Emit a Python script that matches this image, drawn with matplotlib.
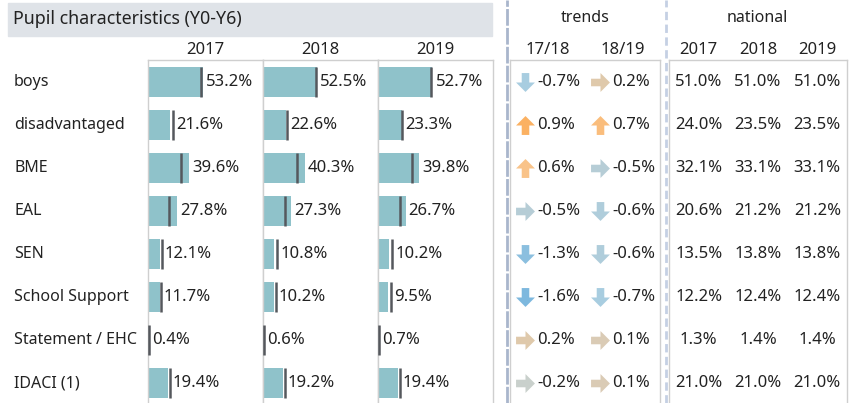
import numpy as np
import matplotlib.pyplot as plt
from matplotlib.patches import Rectangle
from matplotlib.lines import Line2D
from matplotlib.path import Path
from matplotlib.colors import LinearSegmentedColormap

# data
categories = ['boys', 'disadvantaged', 'BME', 'EAL', 'SEN', 'School Support',
              'Statement / EHC', 'IDACI (1)']
years = ['2017', '2018', '2019']
school_2017 = [53.2, 21.6, 39.6, 27.8, 12.1, 11.7, 0.4, 19.4]
school_2018 = [52.5, 22.6, 40.3, 27.3, 10.8, 10.2, 0.6, 19.2]
school_2019 = [52.7, 23.3, 39.8, 26.7, 10.2, 9.5, 0.7, 19.4]
national_2017 = [51.0, 24.0, 32.1, 20.6, 13.5, 12.2, 1.3, 21.0]
national_2018 = [51.0, 23.5, 33.1, 21.2, 13.8, 12.4, 1.4, 21.0]
national_2019 = [51.0, 23.5, 33.1, 21.2, 13.8, 12.4, 1.4, 21.0]
trend_labels = ['17/18', '18/19']
trend_1718 = [-0.7, 0.9, 0.6, -0.5, -1.3, -1.6, 0.2, -0.2]
trend_1819 = [0.2, 0.7, -0.5, -0.6, -0.6, -0.7, 0.1, 0.1]

school = [school_2017, school_2018, school_2019]
national = [national_2017, national_2018, national_2019]
trends = [trend_1718, trend_1819]

plt.rcParams['font.family'] = ['Noto Sans', 'DejaVu Sans']
W, H = 852, 403
fig = plt.figure(figsize=(W / 100, H / 100), dpi=100)
fig.patch.set_facecolor('white')

FS = 11.5   # labels / headers
NS = 12     # numbers
TXT = '#222222'
BAR = '#8fc2ca'
REF = '#55585d'
BORDER = '#cfcfcf'


def fx(px):
    return px / W


def fy(py):
    return 1 - py / H


def panel(x0, x1):
    # axes spanning from y=60px down past the bottom edge
    ax = fig.add_axes([fx(x0), 0, fx(x1) - fx(x0), fy(60)])
    n = len(categories)
    ax.set_ylim(n - 0.53, -0.51)
    ax.set_xticks([])
    ax.set_yticks([])
    ax.spines['bottom'].set_visible(False)
    for s in ['left', 'right', 'top']:
        ax.spines[s].set_color(BORDER)
        ax.spines[s].set_linewidth(1.0)
    return ax


# header box
fig.patches.append(Rectangle((fx(8), fy(36)), fx(492) - fx(8), fy(3) - fy(36),
                             transform=fig.transFigure, color='#dfe3e8', zorder=0))
fig.text(fx(13), fy(19), 'Pupil characteristics (Y0-Y6)', fontsize=12.8, color=TXT,
         va='center', ha='left')
fig.text(fx(585), fy(18), 'trends', fontsize=FS, color=TXT, ha='center', va='center')
fig.text(fx(757), fy(18), 'national', fontsize=FS, color=TXT, ha='center', va='center')

# separators
fig.add_artist(Line2D([fx(507), fx(507)], [0, 1], transform=fig.transFigure,
                      color='#a9b6cc', lw=2, dashes=(6, 0.8)))
fig.add_artist(Line2D([fx(666), fx(666)], [0, 1], transform=fig.transFigure,
                      color='#c5d0e4', lw=2, dashes=(3, 1.6)))

rows = list(range(len(categories)))

# row labels
for i, c in enumerate(categories):
    fig.text(fx(14), fy(82 + 43 * i), c, fontsize=FS, color=TXT, ha='left', va='center')

# school bars with national reference lines
edges = [148, 263, 378, 493]
for k in range(3):
    ax = panel(edges[k], edges[k + 1])
    ax.set_xlim(0, 111.5)
    ax.barh(rows, school[k], height=0.70, color=BAR, zorder=2)
    ax.vlines(national[k], [r - 0.35 for r in rows], [r + 0.35 for r in rows],
              color=REF, lw=1.8, zorder=3)
    for i in rows:
        x = max(school[k][i], national[k][i]) + 3.0
        ax.text(x, i, f'{school[k][i]:.1f}%', fontsize=NS, color=TXT,
                ha='left', va='center')
    fig.text(fx((edges[k] + edges[k + 1]) / 2), fy(50), years[k], fontsize=NS,
             color=TXT, ha='center', va='center')

# trends
cmap = LinearSegmentedColormap.from_list('trend', [
    (0.0, '#7db8de'), (0.36, '#a8cde0'), (0.44, '#b6cdd6'), (0.56, '#c9d0cc'),
    (0.64, '#d6cfc2'), (0.70, '#dccab0'), (0.88, '#f9c38a'), (1.0, '#fbb162')])


def trend_color(v):
    return cmap(min(max((v + 1.6) / 2.5, 0), 1))


# block arrow pointing down, rotated for the other directions
down = np.array([(-0.2, 0.5), (0.2, 0.5), (0.2, 0.0), (0.5, 0.0), (0.0, -0.5),
                 (-0.5, 0.0), (-0.2, 0.0), (-0.2, 0.5)])


def arrow_marker(v):
    if v > 0.5:
        ang = np.pi
    elif v < -0.5:
        ang = 0.0
    else:
        ang = np.pi / 2
    rot = np.array([[np.cos(ang), -np.sin(ang)], [np.sin(ang), np.cos(ang)]])
    return Path(down @ rot.T, closed=True)


ax = panel(510, 660)
ax.set_xlim(0, 2)
for k in range(2):
    for i in rows:
        v = trends[k][i]
        ax.scatter(k + 0.2, i, marker=arrow_marker(v), s=185, color=trend_color(v),
                   linewidths=0)
        ax.text(k + 0.36, i, f'{v:.1f}%', fontsize=NS, color=TXT, ha='left', va='center')
    fig.text(fx(510 + 75 * k + 37.5), fy(50), trend_labels[k], fontsize=NS,
             color=TXT, ha='center', va='center')

# national values
ax = panel(669, 847)
ax.set_xlim(0, 3)
for k in range(3):
    for i in rows:
        ax.text(k + 0.5, i, f'{national[k][i]:.1f}%', fontsize=NS, color=TXT,
                ha='center', va='center')
    fig.text(fx(669 + 59.3 * k + 29.6), fy(50), years[k], fontsize=NS, color=TXT,
             ha='center', va='center')

fig.savefig('out.png', dpi=100)
